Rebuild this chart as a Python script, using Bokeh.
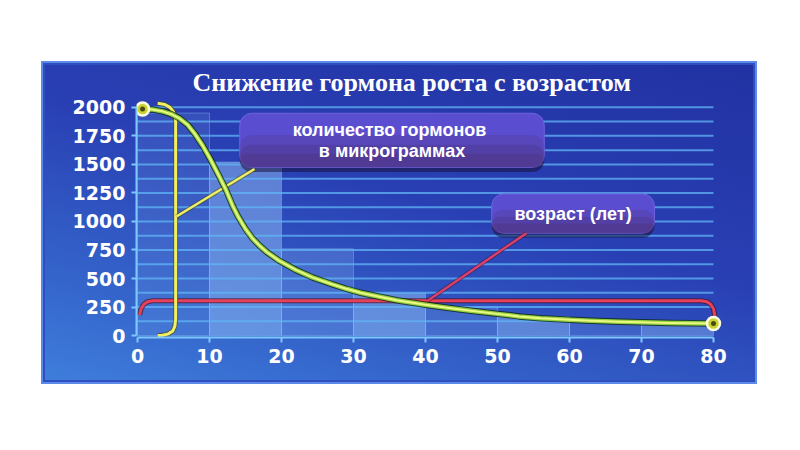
from bokeh.plotting import figure
from bokeh.models import Title, Range1d, FixedTicker
from bokeh.core.properties import value
from bokeh.embed import file_html
from bokeh.resources import INLINE

# ---- data ----
ages = [0.7, 2, 3.5, 4.7, 5.8, 7, 8, 9, 10, 10.7, 11.4, 12.3, 13.2, 14, 15, 16, 17, 18, 19.7, 22, 24.3,
        27, 29, 31, 33.6, 36, 40, 43, 46, 50, 53, 56, 60, 63, 67, 70, 74, 77, 80]
hormone = [1985, 1982, 1965, 1940, 1905, 1845, 1765, 1670, 1560, 1475, 1390, 1275, 1140, 1040, 935, 850, 785,
           730, 655, 575, 510, 450, 410, 375, 340, 310, 270, 243, 220, 190, 168, 152, 138, 130, 122, 116, 110,
           107, 105]

decade_left = [0, 10, 20, 30, 40, 50, 60, 70]
decade_right = [10, 20, 30, 40, 50, 60, 70, 80]
decade_height = [1950, 1520, 760, 370, 250, 165, 130, 115]
decade_alpha = [0.12, 0.42, 0.2, 0.42, 0.16, 0.38, 0.14, 0.34]

x_ticks = [0, 10, 20, 30, 40, 50, 60, 70, 80]
y_ticks = [0, 250, 500, 750, 1000, 1250, 1500, 1750, 2000]
grid_levels = [125, 250, 375, 500, 625, 750, 875, 1000, 1125, 1250, 1375, 1500, 1625, 1750, 1875, 2000]

# yellow bracket (hormone amount) and its pointer
ybr_x = [2.8, 3.8, 4.5, 4.95, 5.2, 5.3, 5.3, 5.2, 4.9, 4.3, 3.5, 2.8]
ybr_y = [2035, 2025, 2000, 1965, 1930, 1880, 150, 85, 40, 15, 3, 0]
ypt_x = [5.4, 16.25]
ypt_y = [1043, 1460]

# red bracket (age) and its pointer
rbr_x = [0.3, 0.5, 0.9, 1.4, 2.1, 78.3, 79.1, 79.6, 80.0, 80.2]
rbr_y = [180, 235, 275, 297, 305, 305, 297, 275, 235, 170]
rpt_x = [40.3, 54.0]
rpt_y = [305, 897]

# annotation boxes
box_left = [14.2, 49.2]
box_right = [56.5, 71.8]
box_top = [1948, 1241]
box_bottom = [1474, 897]
box_text = ["количество  гормонов\nв микрограммах", "возраст (лет)"]

title_text = "Снижение гормона роста с возрастом"

# ---- figure ----
p = figure(width=716, height=323, output_backend="svg", toolbar_location=None,
           x_range=Range1d(-0.14, 83.06), y_range=Range1d(-17, 2060),
           min_border_left=95, min_border_right=22, min_border_top=35, min_border_bottom=47)
p.margin = (61, 0, 0, 41)
p.styles = {"background": "linear-gradient(195deg, #2131a2 0%, #2940b4 45%, #3566cc 80%, #3f7fdc 100%)",
            "box-shadow": "inset 0 0 0 2px #5b8ae8, inset 0 0 0 4px #2f4fc0"}
p.border_fill_color = None
p.background_fill_color = None
p.outline_line_color = None
p.xgrid.grid_line_color = None
p.ygrid.grid_line_color = None

t = Title(text=title_text, align="left", text_color="white",
          text_font="Liberation Serif", text_font_size="26px", text_font_style="bold",
          offset=56, standoff=8)
p.add_layout(t, "above")

# decade columns
p.quad(left=decade_left, right=decade_right, bottom=0, top=decade_height,
       fill_color="#a8d4ff", fill_alpha=decade_alpha, line_color="#9fd0ff", line_alpha=0.35, line_width=1)

# horizontal grid lines from 0 to 80
p.segment(x0=[x_ticks[0]] * len(grid_levels), x1=[x_ticks[-1]] * len(grid_levels),
          y0=grid_levels, y1=grid_levels, line_color="#62b4f6", line_width=2, line_alpha=0.75)

# annotation boxes
shadow_bottom = [b - 40 for b in box_bottom]
p.quad(left=box_left, right=box_right, top=box_top, bottom=shadow_bottom,
       fill_color="#140c30", fill_alpha=0.5, line_color=None, border_radius=12)
p.quad(left=box_left, right=box_right, top=box_top, bottom=box_bottom,
       fill_color="#5b4dd0", line_color="#7064e0", line_width=1, border_radius=12)
for frac, alpha in ((0.6, 0.18), (0.42, 0.22), (0.25, 0.28)):
    band_top = [b + (tp - b) * frac for tp, b in zip(box_top, box_bottom)]
    p.quad(left=box_left, right=box_right, top=band_top, bottom=box_bottom,
           fill_color="#4a2a60", fill_alpha=alpha, line_color=None, border_radius=12)
cx = [(l + r) / 2 for l, r in zip(box_left, box_right)]
cy = [(tp + b) / 2 for tp, b in zip(box_top, box_bottom)]
p.text(x=cx, y=cy, text=box_text, text_color="white", text_align="center", text_baseline="middle",
       text_font=value("Liberation Sans"), text_font_size="18px", text_font_style="bold",
       text_line_height=1.05)

# red bracket
p.line(rbr_x, rbr_y, line_color="#4a1020", line_width=5, line_alpha=0.7)
p.line(rbr_x, rbr_y, line_color="#e8405a", line_width=3)
p.line(rpt_x, rpt_y, line_color="#4a1020", line_width=4, line_alpha=0.6)
p.line(rpt_x, rpt_y, line_color="#d8406e", line_width=2.5)

# yellow bracket
p.line(ybr_x, ybr_y, line_color="#4a4a08", line_width=5, line_alpha=0.6)
p.line(ybr_x, ybr_y, line_color="#f2f062", line_width=3)
p.line(ypt_x, ypt_y, line_color="#4a4a08", line_width=4.5, line_alpha=0.5)
p.line(ypt_x, ypt_y, line_color="#f2f062", line_width=2.5)

# hormone curve
p.line(ages, hormone, line_color="#0e2406", line_width=6.5, line_alpha=0.75, line_join="round")
p.line(ages, hormone, line_color="#8fd03c", line_width=4.5, line_join="round")
p.line(ages, hormone, line_color="#ecf784", line_width=2, line_join="round")

ends_x = [ages[0], ages[-1]]
ends_y = [hormone[0], hormone[-1]]
p.scatter(ends_x, ends_y, size=13, fill_color="#c9d232", line_color="#fdfde0", line_width=2.5)
p.scatter(ends_x, ends_y, size=5, fill_color="#4a4a10", line_color=None)

# axes
for ax in (p.xaxis[0], p.yaxis[0]):
    ax.axis_line_color = "#7cc8ff"
    ax.axis_line_width = 2
    ax.major_tick_line_color = "#7cc8ff"
    ax.major_tick_line_width = 2
    ax.major_tick_out = 5
    ax.major_tick_in = 0
    ax.minor_tick_line_color = None
    ax.major_label_text_color = "white"
    ax.major_label_text_font = "DejaVu Sans"
    ax.major_label_text_font_style = "bold"
    ax.major_label_text_font_size = "19px"
    ax.major_label_standoff = 6
p.xaxis.ticker = FixedTicker(ticks=x_ticks)
p.yaxis.ticker = FixedTicker(ticks=y_ticks)
p.xaxis.bounds = (x_ticks[0], x_ticks[-1])
p.yaxis.bounds = (y_ticks[0], y_ticks[-1])

open("out.html", "w").write(file_html(p, INLINE))
